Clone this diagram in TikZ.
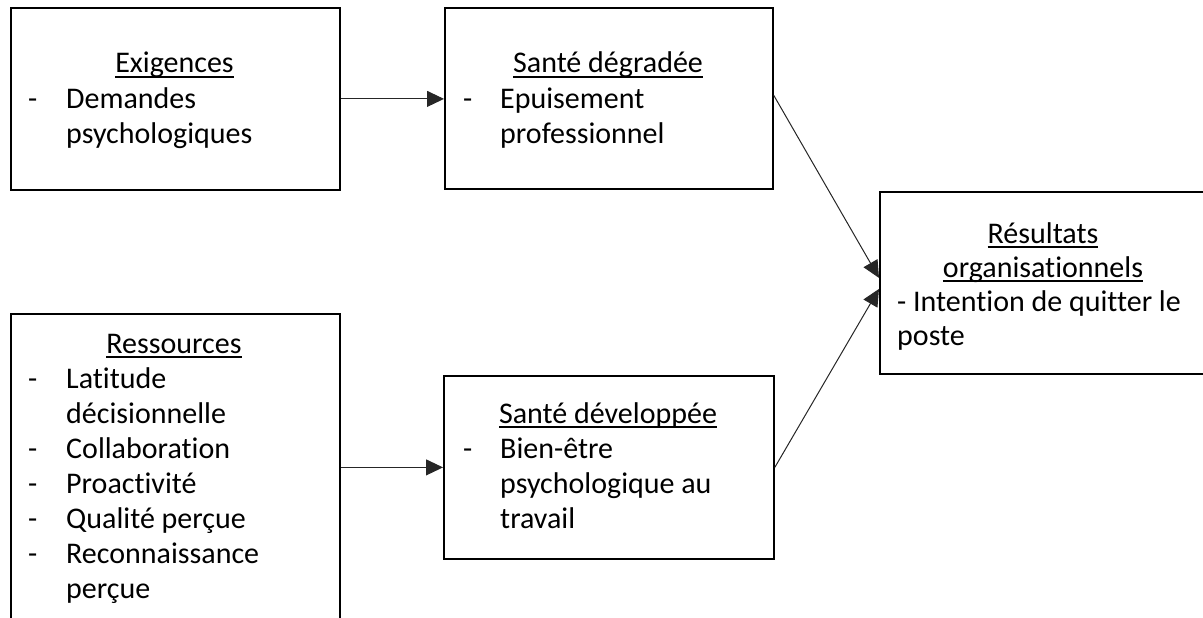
\documentclass[tikz,border=0pt]{standalone}
\usepackage{fontspec}
\setmainfont{Carlito}[Ligatures=NoCommon]
\usetikzlibrary{arrows.meta}
\newcommand\ult[1]{\setbox0\hbox{#1}\rlap{\rule[-5pt]{\wd0}{1.8pt}}\box0}
\tikzset{
  box/.style={draw=black, line width=1.8pt, rectangle, inner sep=0pt, anchor=north west},
  txt/.style={inner sep=0pt, anchor=base west, font=\fontsize{30}{35}\selectfont, text=black},
  ttl/.style={inner sep=0pt, anchor=base, font=\fontsize{30}{35}\selectfont, text=black},
  conn/.style={line width=1pt, draw=black!85, -{Triangle[length=17pt,width=16pt]}}
}
\begin{document}
\begin{tikzpicture}[x=1pt,y=-1pt]
\useasboundingbox (0,0) rectangle (1203,618);
\clip (0,0) rectangle (1203,618);
% boxes
\node[box, minimum width=329pt, minimum height=182pt] (b1) at (10,7) {};
\node[box, minimum width=328pt, minimum height=181pt] (b2) at (444,7) {};
\node[box, minimum width=328pt, minimum height=182pt] (b3) at (879,191) {};
\node[box, minimum width=329pt, minimum height=327pt] (b4) at (10,313) {};
\node[box, minimum width=330pt, minimum height=183pt] (b5) at (443,375) {};
% texts box 1
\node[ttl] (t1) at (174.5,73) {\ult{Exigences}};
\node[txt] (d1) at (28,108) {-};
\node[txt] (l1a) at (66,108) {Demandes};
\node[txt] (l1b) at (66,143) {psychologiques};
% box 2
\node[ttl] (t2) at (608,73) {\ult{Santé dégradée}};
\node[txt] (d2) at (463,108) {-};
\node[txt] (l2a) at (500,108) {Epuisement};
\node[txt] (l2b) at (500,143) {professionnel};
% box 3
\node[ttl] (t3a) at (1043,243) {\ult{Résultats}};
\node[ttl] (t3b) at (1043,277) {\ult{organisationnels}};
\node[txt] (l3a) at (897,311) {- Intention de quitter le};
\node[txt] (l3b) at (897,345) {poste};
% box 4
\node[ttl] (t4) at (174,353) {\ult{Ressources}};
\node[txt] (d4a) at (28,388) {-};
\node[txt] (l4a) at (66,388) {Latitude};
\node[txt] (l4b) at (66,423) {décisionnelle};
\node[txt] (d4c) at (28,458) {-};
\node[txt] (l4c) at (66,458) {Collaboration};
\node[txt] (d4d) at (28,493) {-};
\node[txt] (l4d) at (66,493) {Proactivité};
\node[txt] (d4e) at (28,528) {-};
\node[txt] (l4e) at (66,528) {Qualité perçue};
\node[txt] (d4f) at (28,563) {-};
\node[txt] (l4f) at (66,563) {Reconnaissance};
\node[txt] (l4g) at (66,598) {perçue};
% box 5
\node[ttl] (t5) at (608,423) {\ult{Santé développée}};
\node[txt] (d5) at (463,458) {-};
\node[txt] (l5a) at (500,458) {Bien-être};
\node[txt] (l5b) at (500,493) {psychologique au};
\node[txt] (l5c) at (500,528) {travail};
% connectors
\draw[conn] (b1.east) -- (b1.east -| b2.west);
\draw[conn] (b5.west -| b4.east) -- (b5.west);
\draw[conn] ([yshift=3pt]b2.east) -- ([yshift=5pt]b3.west);
\draw[conn] (b5.east) -- ([yshift=-6pt]b3.west);
\end{tikzpicture}
\end{document}
